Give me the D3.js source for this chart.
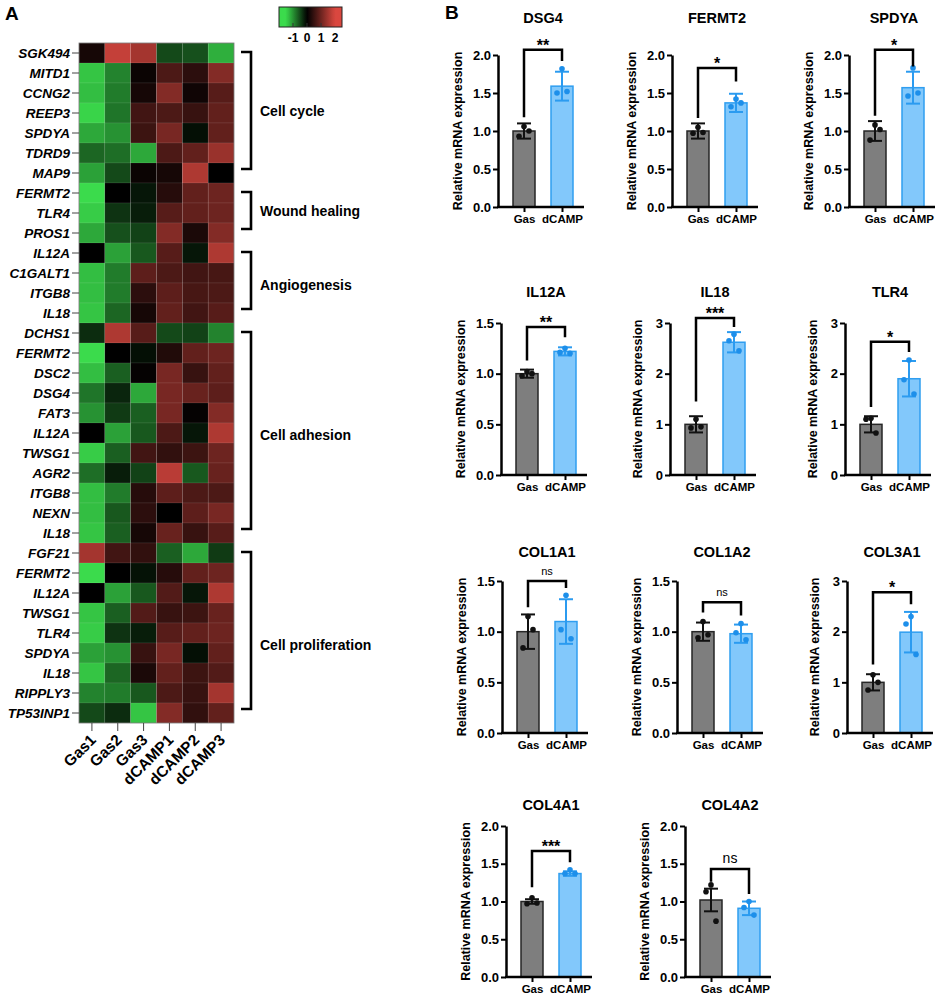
<!DOCTYPE html>
<html><head><meta charset="utf-8">
<script src="https://cdn.jsdelivr.net/npm/d3@7"></script>
<style>
body{margin:0;background:#fff}
svg{display:block}
text{font-family:Arial,"Liberation Sans",Helvetica,sans-serif}
</style>
</head><body>
<svg id="c" width="941" height="998"></svg>
<script>
// ---------- Heatmap data ----------
const genes = ["SGK494","MITD1","CCNG2","REEP3","SPDYA","TDRD9","MAP9","FERMT2","TLR4","PROS1",
  "IL12A","C1GALT1","ITGB8","IL18","DCHS1","FERMT2","DSC2","DSG4","FAT3","IL12A","TWSG1","AGR2",
  "ITGB8","NEXN","IL18","FGF21","FERMT2","IL12A","TWSG1","TLR4","SPDYA","IL18","RIPPLY3","TP53INP1"];
const samples = ["Gas1","Gas2","Gas3","dCAMP1","dCAMP2","dCAMP3"];
const heatValues = [
  [0.2, 1.8, 1.5, -0.5, -0.55, -1.2],
  [-1.35, -0.9, 0.1, 0.7, 0.4, 1.2],
  [-1.3, -0.85, 0.2, 1.2, 0.15, 0.8],
  [-1.45, -0.8, 0.6, 0.7, 0.5, 0.9],
  [-1.15, -1.0, 0.55, 1.1, -0.1, 0.9],
  [-0.7, -0.75, -1.15, 0.7, 0.9, 1.4],
  [-1.1, -0.5, 0.1, 0.2, 1.6, 0.0],
  [-1.55, 0.0, -0.15, 0.35, 0.9, 1.0],
  [-1.4, -0.35, -0.2, 0.8, 0.9, 1.0],
  [-1.15, -0.55, -0.45, 1.2, 0.25, 1.2],
  [0.0, -1.1, -0.6, 0.8, -0.15, 1.6],
  [-1.3, -0.85, 0.85, 0.7, 0.6, 0.65],
  [-1.3, -0.85, 0.4, 0.85, 0.65, 0.7],
  [-1.35, -0.7, 0.2, 0.9, 0.6, 0.8],
  [-0.3, 1.6, 0.8, -0.5, -0.45, -0.9],
  [-1.55, 0.0, -0.1, 0.3, 0.9, 1.0],
  [-1.3, -0.65, 0.05, 1.1, 0.5, 0.9],
  [-0.8, -0.25, -1.15, 1.1, 0.95, 0.85],
  [-1.0, -0.4, -0.65, 1.1, 0.05, 1.2],
  [0.0, -1.1, -0.6, 0.7, -0.15, 1.6],
  [-1.4, -0.65, 0.6, 0.45, 0.55, 1.0],
  [-0.75, -0.2, -0.45, 1.7, -0.6, 0.95],
  [-1.3, -0.85, 0.35, 0.85, 0.7, 0.7],
  [-1.3, -0.6, 0.4, 0.0, 0.85, 1.1],
  [-1.35, -0.65, 0.2, 0.95, 0.5, 0.8],
  [1.5, 0.6, 0.45, -0.65, -1.15, -0.4],
  [-1.55, 0.0, -0.12, 0.35, 0.9, 1.0],
  [0.0, -1.1, -0.6, 0.75, -0.15, 1.6],
  [-1.35, -0.65, 0.75, 0.5, 0.55, 0.95],
  [-1.4, -0.35, -0.2, 0.8, 0.9, 1.0],
  [-1.1, -1.0, 0.5, 1.1, -0.1, 0.9],
  [-1.35, -0.7, 0.25, 0.9, 0.55, 0.75],
  [-0.9, -0.85, -0.6, 0.7, 0.5, 1.5],
  [-0.5, -0.3, -1.35, 1.2, 0.45, 0.9]
];
const groupNames = ["Cell cycle","Wound healing","Angiogenesis","Cell adhesion","Cell proliferation"];
const groupFirstRow = [0, 7, 10, 14, 25];
const groupLastRow = [6, 9, 13, 24, 33];
const groupLabelRow = [2.9, 7.9, 11.6, 19.1, 29.6];
const legendTicks = [-1, 0, 1, 2];

// ---------- Bar chart data ----------
const barGenes = ["DSG4","FERMT2","SPDYA","IL12A","IL18","TLR4","COL1A1","COL1A2","COL3A1","COL4A1","COL4A2"];
const conditions = ["Gas","dCAMP"];
const yMaxes = [2, 2, 2, 1.5, 3, 3, 1.5, 1.5, 3, 2, 2];
const yTickSteps = [0.5, 0.5, 0.5, 0.5, 1, 1, 0.5, 0.5, 1, 0.5, 0.5];
const gasMean = [1.0, 1.0, 1.0, 1.0, 1.0, 1.0, 1.0, 1.0, 1.0, 1.0, 1.02];
const gasSD = [0.1, 0.1, 0.13, 0.04, 0.16, 0.16, 0.17, 0.09, 0.16, 0.03, 0.15];
const gasPoints = [[1.06,0.93,1.0],[1.05,0.97,0.98],[1.08,0.88,1.02],[1.02,0.98,1.0],[1.1,0.93,0.95],
  [1.12,1.1,0.83],[1.15,0.84,1.02],[1.1,0.94,0.97],[1.15,0.85,1.0],[1.05,0.97,0.98],[1.22,1.13,0.74]];
const dcMean = [1.59, 1.37, 1.57, 1.22, 2.62, 1.9, 1.1, 0.98, 1.99, 1.37, 0.91];
const dcSD = [0.19, 0.12, 0.21, 0.04, 0.2, 0.35, 0.22, 0.09, 0.4, 0.03, 0.09];
const dcPoints = [[1.82,1.5,1.52],[1.42,1.32,1.37],[1.83,1.46,1.5],[1.25,1.21,1.2],[2.78,2.65,2.45],
  [2.27,1.88,1.6],[1.36,1.02,0.93],[1.08,0.99,0.92],[2.3,2.15,1.55],[1.42,1.37,1.37],[1.0,0.92,0.82]];
const sigLabels = ["**","*","*","**","***","*","ns","ns","*","***","ns"];
const bracketTop = [2.07, 1.83, 2.07, 1.46, 3.1, 2.63, 1.5, 1.29, 2.78, 1.67, 1.43];
const bracketLeft = [1.18, 1.17, 1.2, 1.13, 1.45, 1.34, 1.24, 1.19, 1.35, 1.19, 1.26];
const bracketRight = [1.92, 1.65, 1.85, 1.36, 2.92, 2.43, 1.43, 1.16, 2.54, 1.52, 1.1];

// ---------- Layout (not data) ----------
const panelAxisX = [498, 672, 849, 501, 670, 845, 502, 677, 847, 506, 685];
const panelRow = [0,0,0,1,1,1,2,2,2,3,3];
const rowTop = [55, 323, 581, 826];
const rowBottom = [207, 475, 733, 977];
const rowTitleY = [18, 292, 552, 805];

const svg = d3.select("#c");
const FONT = 'Arial,"Liberation Sans",Helvetica,sans-serif';

// Panel letters
svg.append("text").attr("x", 5).attr("y", 20).attr("font-size", 19).attr("font-weight", "bold").text("A");
svg.append("text").attr("x", 445).attr("y", 19).attr("font-size", 19).attr("font-weight", "bold").text("B");

// ---------- Heatmap ----------
const hx = d3.scaleBand().domain(d3.range(samples.length)).range([79, 234]);
const hy = d3.scaleBand().domain(d3.range(genes.length)).range([43, 723]);
const color = d3.scaleLinear().domain([-1.5, 0, 2]).range(["#3bdb4c", "#000000", "#da473f"]).clamp(true);

const hm = svg.append("g");
heatValues.forEach((row, r) => {
  hm.selectAll(null).data(row).join("rect")
    .attr("x", (d, c) => hx(c)).attr("y", hy(r))
    .attr("width", hx.bandwidth()).attr("height", hy.bandwidth())
    .attr("fill", d => color(d))
    .attr("stroke", "rgba(255,255,255,0.13)").attr("stroke-width", 0.6);
});
hm.append("rect").attr("x", 79).attr("y", 43).attr("width", 155).attr("height", 680)
  .attr("fill", "none").attr("stroke", "#777").attr("stroke-width", 0.8);

genes.forEach((g, r) => {
  const yc = hy(r) + hy.bandwidth() / 2;
  hm.append("line").attr("x1", 72).attr("x2", 79).attr("y1", yc).attr("y2", yc).attr("stroke", "#444").attr("stroke-width", 1);
  hm.append("text").attr("x", 70).attr("y", yc + 5).attr("text-anchor", "end")
    .attr("font-size", 13.5).attr("font-weight", "bold").attr("font-style", "italic").text(g);
});
samples.forEach((s, c) => {
  const xc = hx(c) + hx.bandwidth() / 2;
  hm.append("line").attr("x1", xc).attr("x2", xc).attr("y1", 723).attr("y2", 731).attr("stroke", "#444").attr("stroke-width", 1);
  hm.append("text").attr("transform", `translate(${xc + 5},${741}) rotate(-45)`)
    .attr("text-anchor", "end").attr("font-size", 15.5).attr("font-weight", "bold").text(s);
});
groupNames.forEach((name, i) => {
  const y1 = hy(groupFirstRow[i]) + hy.bandwidth() / 2 - 1;
  const y2 = hy(groupLastRow[i]) + hy.bandwidth() / 2 - 4;
  hm.append("path").attr("d", `M241,${y1}H251V${y2}H241`).attr("fill", "none")
    .attr("stroke", "#000").attr("stroke-width", 2.6);
  const yl = hy(0) + (groupLabelRow[i] + 0.5) * hy.step();
  hm.append("text").attr("x", 260).attr("y", yl + 5)
    .attr("font-size", 14).attr("font-weight", "bold").text(name);
});
// color legend
const lx = d3.scaleLinear().domain([-2, 2.5]).range([279, 342]);
const defs = svg.append("defs");
const grad = defs.append("linearGradient").attr("id", "lg");
d3.range(0, 1.0001, 0.05).forEach(t => {
  grad.append("stop").attr("offset", t).attr("stop-color", color(lx.invert(279 + t * 63)));
});
svg.append("rect").attr("x", 279).attr("y", 7).attr("width", 63).attr("height", 20)
  .attr("fill", "url(#lg)").attr("stroke", "#222").attr("stroke-width", 1);
legendTicks.forEach(t => {
  if (t < 2) svg.append("line").attr("x1", lx(t)).attr("x2", lx(t)).attr("y1", 27).attr("y2", 23).attr("stroke", "#333");
  svg.append("text").attr("x", lx(t)).attr("y", 42).attr("text-anchor", "middle")
    .attr("font-size", 12).attr("font-weight", "bold").text(t === -1 ? "-1" : t);
});

// ---------- Bar panels ----------
barGenes.forEach((gene, i) => {
  const ax = panelAxisX[i];
  const r = panelRow[i];
  const g = svg.append("g");
  const y = d3.scaleLinear().domain([0, yMaxes[i]]).range([rowBottom[r], rowTop[r]]);
  const x = d3.scalePoint().domain(conditions).range([ax + 26, ax + 64]);
  const isDec = yTickSteps[i] < 1;

  g.append("text").attr("x", ax + 45).attr("y", rowTitleY[r] + 5).attr("text-anchor", "middle")
    .attr("font-size", 14.5).attr("font-weight", "bold").text(gene);

  const means = [gasMean[i], dcMean[i]];
  const sds = [gasSD[i], dcSD[i]];
  const pts = [gasPoints[i], dcPoints[i]];
  const fills = ["#7e7e7e", "#82c8fb"];
  const strokes = ["#262626", "#2f9ef0"];
  const errCol = ["#111", "#2b9bf0"];
  const dotCol = ["#111", "#1d8fea"];
  const bw = 22;
  conditions.forEach((cnd, k) => {
    const cx = x(cnd);
    g.append("rect").attr("x", cx - bw / 2).attr("y", y(means[k]))
      .attr("width", bw).attr("height", y(0) - y(means[k]))
      .attr("fill", fills[k]).attr("stroke", strokes[k]).attr("stroke-width", 1.5);
    const yt = y(means[k] + sds[k]), yb = y(means[k] - sds[k]);
    g.append("line").attr("x1", cx).attr("x2", cx).attr("y1", yt).attr("y2", yb).attr("stroke", errCol[k]).attr("stroke-width", 2);
    [yt, yb].forEach(yy => g.append("line").attr("x1", cx - 7).attr("x2", cx + 7).attr("y1", yy).attr("y2", yy)
      .attr("stroke", errCol[k]).attr("stroke-width", 2));
    const offs = [0, -5, 5];
    g.selectAll(null).data(pts[k]).join("circle")
      .attr("cx", (d, j) => cx + offs[j]).attr("cy", d => y(d)).attr("r", 2.8).attr("fill", dotCol[k]);
  });

  const yAxis = d3.axisLeft(y).tickValues(d3.range(0, yMaxes[i] + 1e-9, yTickSteps[i]))
    .tickSize(5).tickSizeOuter(0).tickFormat(isDec ? d3.format(".1f") : d3.format("d"));
  const ya = g.append("g").attr("transform", `translate(${ax},0)`).call(yAxis);
  ya.select(".domain").attr("stroke-width", 2.5);
  ya.selectAll(".tick line").attr("stroke-width", 2);
  ya.selectAll(".tick text").attr("font-size", 13).attr("font-weight", "bold").attr("font-family", FONT).attr("fill", "#000").attr("x", -7);

  const xAxis = d3.axisBottom(x).tickSize(5).tickSizeOuter(0);
  const xa = g.append("g").attr("transform", `translate(0,${rowBottom[r]})`).call(xAxis);
  xa.select(".domain").remove();
  xa.selectAll(".tick line").attr("stroke-width", 2);
  xa.selectAll(".tick text").attr("font-size", 11.5).attr("font-weight", "bold").attr("font-family", FONT).attr("fill", "#000").attr("y", 8);
  g.append("line").attr("x1", ax - 1).attr("x2", ax + 86).attr("y1", rowBottom[r]).attr("y2", rowBottom[r])
    .attr("stroke", "#000").attr("stroke-width", 2.5);

  g.append("text").attr("transform", `translate(${ax - (isDec ? 36 : 28)},${(rowTop[r] + rowBottom[r]) / 2}) rotate(-90)`)
    .attr("text-anchor", "middle").attr("font-size", 12.5).attr("font-weight", "bold").text("Relative mRNA expression");

  const xl = x("Gas"), xr = x("dCAMP");
  g.append("path").attr("d", `M${xl},${y(bracketLeft[i])}V${y(bracketTop[i])}H${xr}V${y(bracketRight[i])}`)
    .attr("fill", "none").attr("stroke", "#000").attr("stroke-width", 2.5);
  const isNs = sigLabels[i] === "ns";
  g.append("text").attr("x", (xl + xr) / 2).attr("y", y(bracketTop[i]) + (isNs ? -6 : 1))
    .attr("text-anchor", "middle")
    .attr("font-size", isNs ? (i === 10 ? 14 : 11) : 16)
    .attr("font-weight", isNs ? "normal" : "bold").text(sigLabels[i]);
});
</script>
</body></html>
